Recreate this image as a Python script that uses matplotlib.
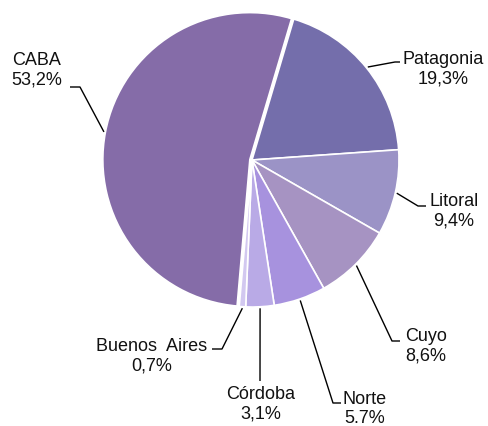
import numpy as np
import matplotlib
matplotlib.use("Agg")
import matplotlib.pyplot as plt

plt.rcParams["font.family"] = ["Liberation Sans", "DejaVu Sans"]

# data (clockwise from the top, starting with Patagonia)
regions = ["Patagonia", "Litoral", "Cuyo", "Norte", "Córdoba", "Buenos  Aires", "CABA"]
shares = [19.3, 9.4, 8.6, 5.7, 3.1, 0.7, 53.2]
share_labels = ["19,3%", "9,4%", "8,6%", "5.7%", "3,1%", "0,7%", "53,2%"]
colors = ["#746eab", "#9b93c6", "#a693c2", "#a792de", "#b9aae6", "#d2c8f0", "#856ca8"]

W, H = 489, 427
CX, CY, R = 252, H - 161, 147
# explode is in data units here (pixels), CABA is pulled out a little
explode = [0, 0, 0, 0, 0, 0, 2.2]

# label layout in pixel coords (y from top): text centre, elbow, end of horizontal tick
layout = {
    "Patagonia":     dict(text=(443, 69), elbow=(395, 63), end=(400, 63)),
    "Litoral":       dict(text=(454, 211), elbow=(418, 207), end=(426, 207)),
    "Cuyo":          dict(text=(426, 346), elbow=(392, 342), end=(400, 342)),
    "Norte":         dict(text=(365, 409), elbow=(333, 404), end=(341, 404)),
    "Córdoba":       dict(text=(261, 404), elbow=(260, 382), end=(260, 382)),
    "Buenos  Aires": dict(text=(152, 356), elbow=(222, 350), end=(212, 350)),
    "CABA":          dict(text=(37, 70), elbow=(80, 88), end=(70, 88)),
}

fig = plt.figure(figsize=(W / 100, H / 100), dpi=100)
ax = fig.add_axes([0, 0, 1, 1])

wedges, _ = ax.pie(
    shares,
    colors=colors,
    startangle=73.5,
    counterclock=False,
    center=(CX, CY),
    radius=R,
    explode=explode,
    wedgeprops=dict(edgecolor="white", linewidth=1.2),
)

for w, name, pct in zip(wedges, regions, share_labels):
    mid = np.deg2rad((w.theta1 + w.theta2) / 2)
    cx, cy = w.center
    ax0 = cx + (R + 1.5) * np.cos(mid)
    ay0 = cy + (R + 1.5) * np.sin(mid)
    lay = layout[name]
    ex, ey = lay["elbow"]
    hx, hy = lay["end"]
    ax.plot([ax0, ex, hx], [ay0, H - ey, H - hy], color="black", lw=1.0,
            solid_capstyle="butt")
    tx, ty = lay["text"]
    ax.text(tx, H - ty, f"{name}\n{pct}", ha="center", va="center",
            fontsize=13, linespacing=1.2, color="#111111")

ax.set_xlim(0, W)
ax.set_ylim(0, H)
ax.set_aspect("equal")
ax.axis("off")

fig.savefig("out.png", dpi=100, facecolor="white")
